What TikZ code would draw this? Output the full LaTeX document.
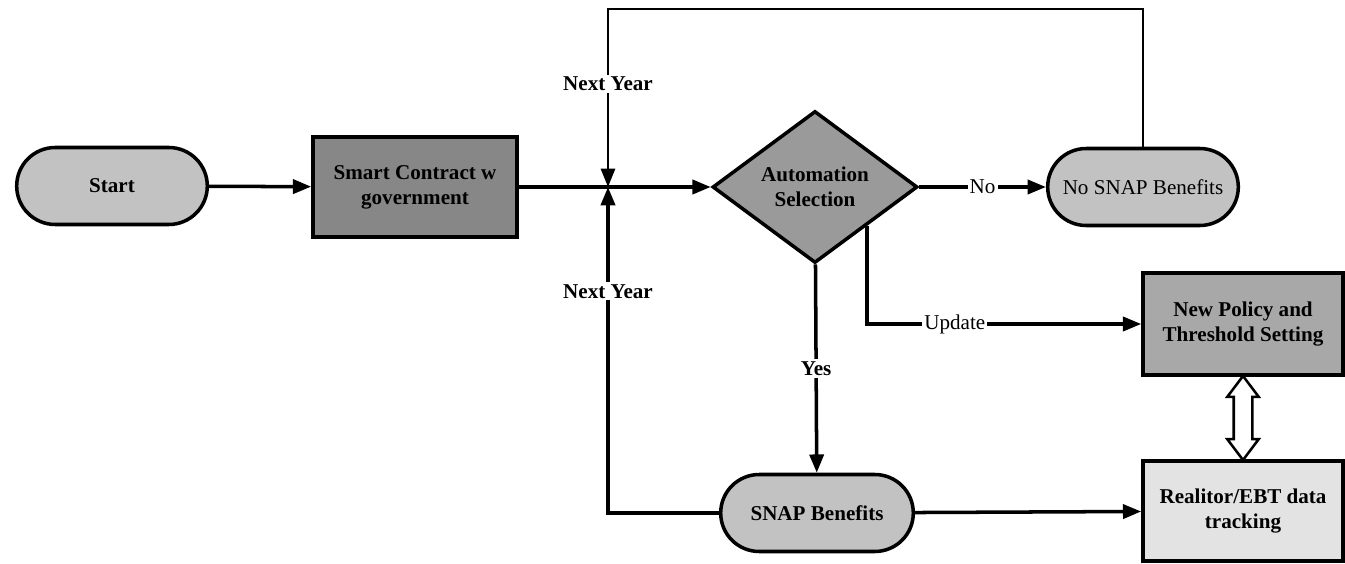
\documentclass[tikz,border=0pt]{standalone}
\usepackage{fontspec}
\setmainfont{Liberation Serif}
\usepackage{tikz}
\usetikzlibrary{arrows.meta, calc, positioning, shapes.geometric, shapes.misc, shapes.arrows}
\definecolor{pillgrau}{HTML}{C2C2C2}
\definecolor{vertrag}{HTML}{878787}
\definecolor{rauten}{HTML}{9A9A9A}
\definecolor{politik}{HTML}{A8A8A8}
\definecolor{spur}{HTML}{E3E3E3}
\newcommand{\fnt}{\fontsize{15}{18}\selectfont}

\begin{document}
\begin{tikzpicture}[
        arr/.style={-{Triangle[length=13pt, width=10pt]}, line width=2.5pt},
        lbl/.style={fill=white, inner sep=1.5pt, font=\fnt\bfseries},
        pill/.style={draw, line width=2.5pt, rounded rectangle, minimum width=5cm,
                     minimum height=1.925cm, font=\fnt\bfseries},
        box/.style={draw, line width=2.5pt, minimum width=5cm, minimum height=2.5cm,
                    align=center, font=\fnt\bfseries}
      ]
      \useasboundingbox (0,0) rectangle (33.625,14.075);
      \node[pill, fill=pillgrau] (start) at (2.8,9.425) {Start};
      \node[box, fill=vertrag, minimum width=5.1cm] (smart) at (10.375,9.4)
        {Smart Contract w\\government};
      \node[draw, diamond, line width=2.5pt, fill=rauten, aspect=1.35, inner sep=1pt,
            minimum width=5.125cm, minimum height=3.8cm, align=center,
            font=\fnt\bfseries] (auto) at (20.375,9.4) {Automation\\Selection};
      \node[pill, fill=pillgrau, font=\fnt] (nosnap) at (28.575,9.4) {No SNAP Benefits};
      \node[box, fill=politik, minimum height=2.55cm] (policy) at (31.075,5.975)
        {New Policy and\\Threshold Setting};
      \node[box, fill=spur] (track) at (31.075,1.3) {Realitor/EBT data\\tracking};
      \node[pill, fill=pillgrau, minimum width=5.05cm] (snap) at (20.425,1.25) {SNAP Benefits};
      \coordinate (junc) at (15.2,9.4);
      \coordinate (looptop) at (15.2,13.85);
      % Verbindungen
      \draw[arr] (start) -- (smart);
      \draw[arr] (smart) -- (auto);
      \draw[arr] (auto) -- node[lbl, font=\fnt] {No} (nosnap);
      \draw[arr] (auto) -- node[lbl] {Yes} (snap);
      \draw[arr] (auto.south east) |- node[lbl, font=\fnt, pos=0.66] {Update} (policy.west);
      \draw[arr] (snap) -- (track);
      \draw[arr, line width=1.8pt] (nosnap.north) |- (looptop) -- node[lbl, pos=0.42] {Next Year} (junc);
      \draw[arr] (snap.west) -| node[lbl, pos=0.84] {Next Year} (junc);
      \node[double arrow, draw, fill=white, line width=1.8pt, rotate=90,
            minimum height=2.1cm, inner xsep=0pt, inner ysep=0.2cm,
            double arrow head extend=0.16cm, double arrow tip angle=74] (link)
        at ($(policy.south)!0.5!(track.north)$) {};
    \end{tikzpicture}
\end{document}
